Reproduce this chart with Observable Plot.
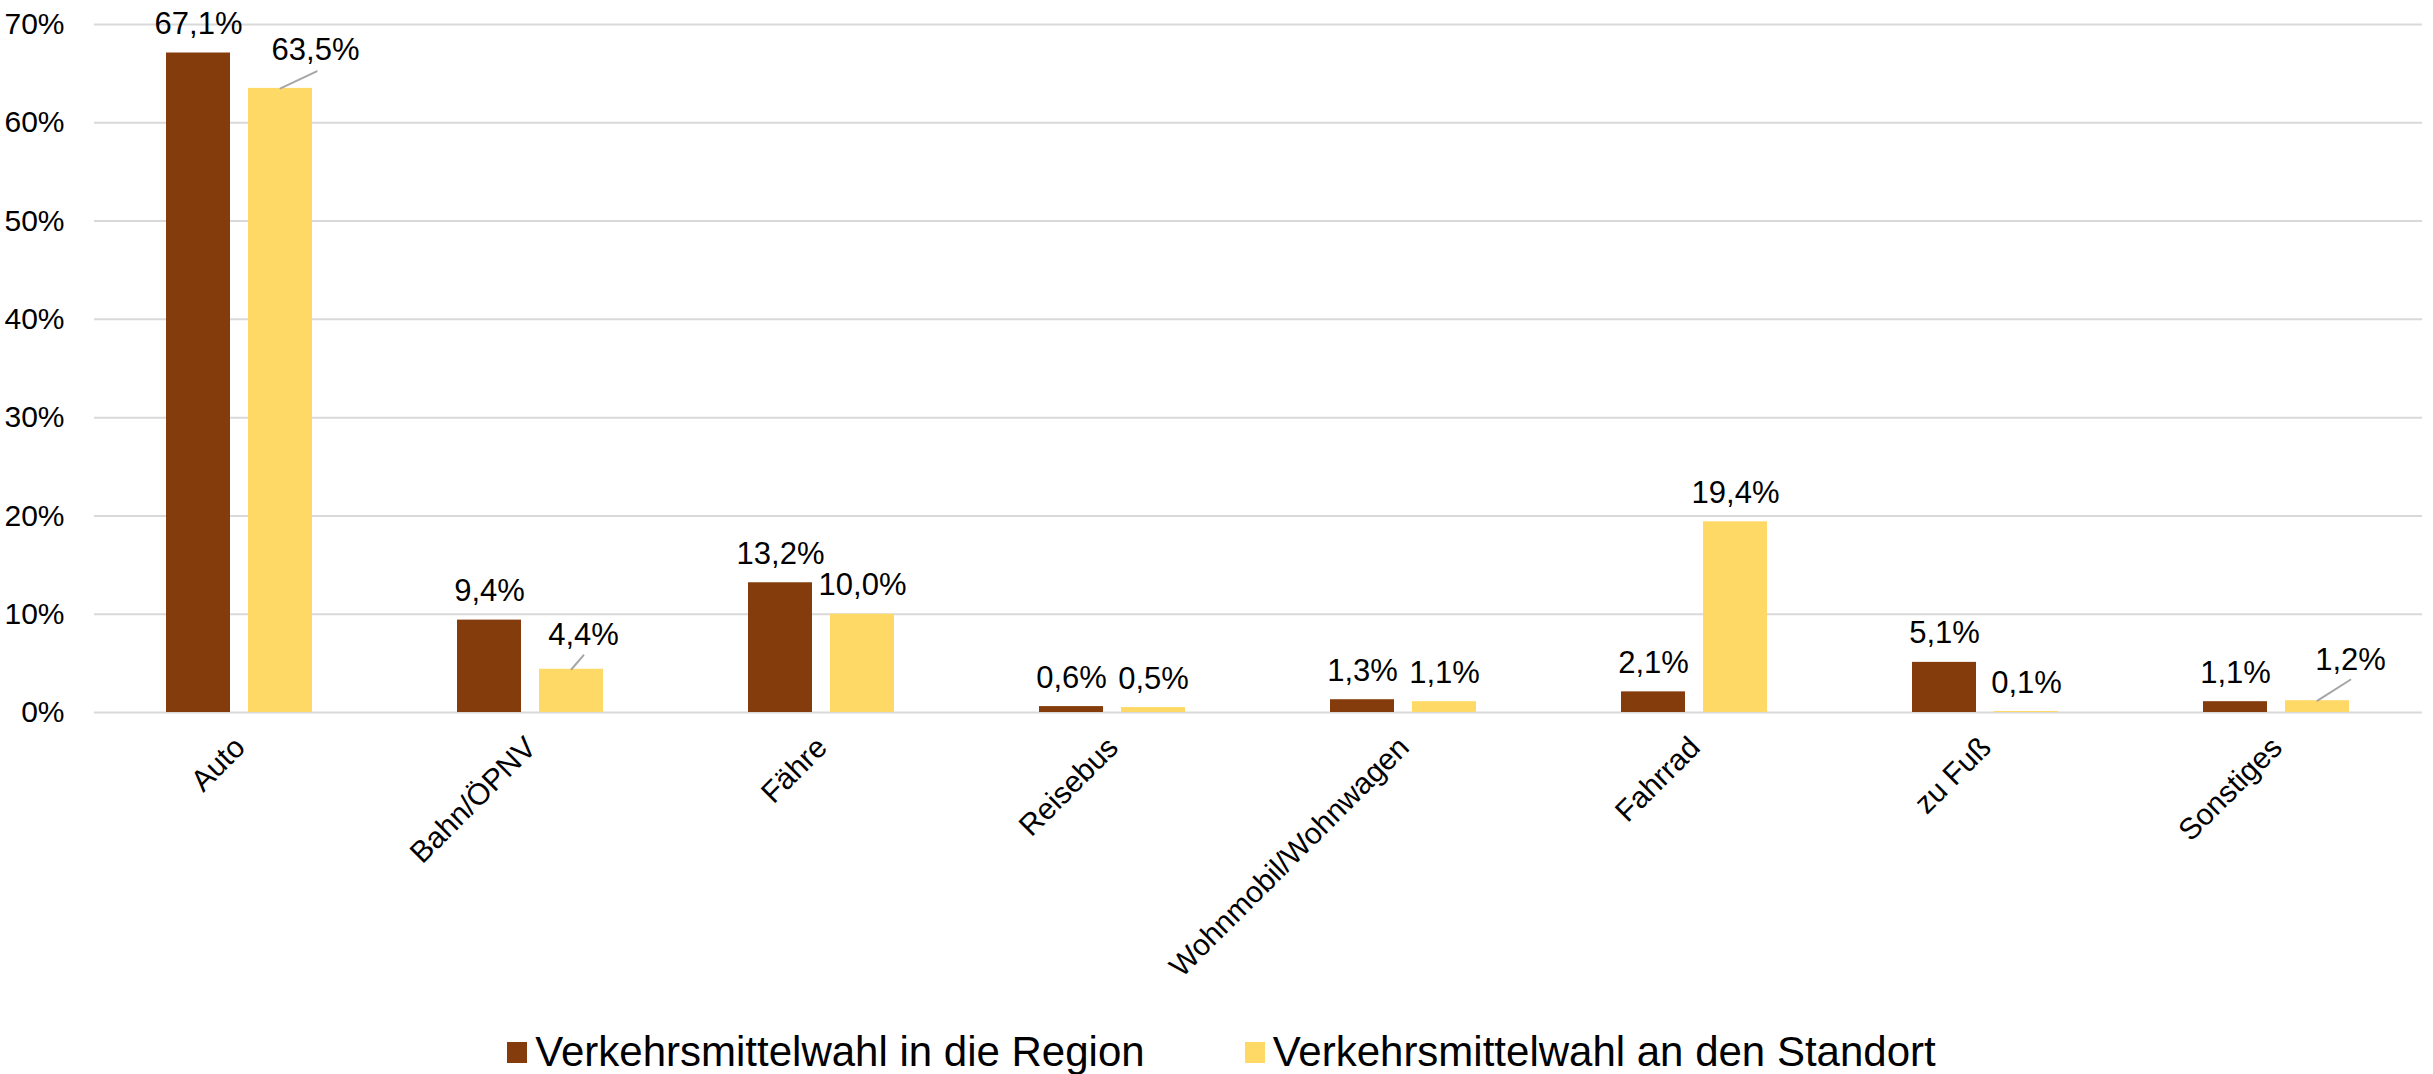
<!DOCTYPE html>
<html>
<head>
<meta charset="utf-8">
<script src="https://cdn.jsdelivr.net/npm/d3@7"></script>
<script src="https://cdn.jsdelivr.net/npm/@observablehq/plot@0.6"></script>
<style>
  html, body { margin: 0; padding: 0; background: #fff; }
  body { width: 2433px; height: 1074px; overflow: hidden; font-family: "Liberation Sans", Arial, sans-serif; }
  #legend { display: flex; justify-content: center; align-items: center; gap: 100px; height: 44px; padding-top: 20px; padding-left: 10px; }
  .item { display: flex; align-items: center; font-size: 42px; color: #000; }
  .sw { width: 20px; height: 21px; margin-right: 8px; }
</style>
</head>
<body>
<div id="chart"></div>
<div id="legend"></div>
<script>
const categories = ["Auto", "Bahn/ÖPNV", "Fähre", "Reisebus", "Wohnmobil/Wohnwagen", "Fahrrad", "zu Fuß", "Sonstiges"];
const seriesNames = ["Verkehrsmittelwahl in die Region", "Verkehrsmittelwahl an den Standort"];
const regionValues = [67.1, 9.4, 13.2, 0.6, 1.3, 2.1, 5.1, 1.1];
const standortValues = [63.5, 4.4, 10.0, 0.5, 1.1, 19.4, 0.1, 1.2];
const yTicks = [0, 10, 20, 30, 40, 50, 60, 70];
const colors = ["#843C0C", "#FFD966"];

const rows = [];
categories.forEach((c, i) => {
  rows.push({cat: c, series: seriesNames[0], value: regionValues[i]});
  rows.push({cat: c, series: seriesNames[1], value: standortValues[i]});
});

// label placements for the labels that were moved aside (pixel offsets + leader lines)
const moved = {
  "Auto": {dx: 35, dy: -28, len: 40, rot: 64.7},
  "Bahn/ÖPNV": {dx: 12, dy: -24, len: 18.4, rot: 40.6},
  "Sonstiges": {dx: 33, dy: -31, len: 39, rot: 57.5}
};
const isMoved = d => d.series === seriesNames[1] && moved[d.cat];
const fmt = v => v.toFixed(1).replace(".", ",") + "%";

const normal = rows.filter(d => !isMoved(d));
const movedRows = rows.filter(d => isMoved(d));

const font = "Liberation Sans, Arial, sans-serif";

const textMarks = movedRows.map(d => Plot.text([d], {
  fx: "cat", x: "series", y: "value", text: d => fmt(d.value),
  dx: moved[d.cat].dx, dy: moved[d.cat].dy, lineAnchor: "bottom",
  fontSize: 31, fill: "#000"
}));
const leaderMarks = movedRows.map(d => Plot.vector([d], {
  fx: "cat", x: "series", y: "value",
  length: moved[d.cat].len, rotate: moved[d.cat].rot, anchor: "start",
  r: 0, stroke: "#A6A6A6", strokeWidth: 2
}));

const chart = Plot.plot({
  width: 2433,
  height: 1010,
  marginLeft: 93,
  marginRight: 10,
  marginTop: 24,
  marginBottom: 298,
  style: {fontFamily: font, fontSize: "30px", color: "#000", background: "#fff"},
  fx: {domain: categories, padding: 0, label: null, tickRotate: -45, tickSize: 0, tickPadding: 30, fontSize: 31},
  x: {domain: seriesNames, paddingInner: 0.217, paddingOuter: 0.863, axis: null},
  y: {domain: [0, 70], ticks: yTicks, tickFormat: d => d + "%", label: null, tickSize: 0, tickPadding: 30, grid: false},
  color: {domain: seriesNames, range: colors},
  marks: [
    Plot.gridY(yTicks, {stroke: "#D9D9D9", strokeOpacity: 1, strokeWidth: 2}),
    Plot.barY(rows, {fx: "cat", x: "series", y: "value", fill: "series", inset: 0}),
    Plot.text(normal, {fx: "cat", x: "series", y: "value", text: d => fmt(d.value), dy: -19, lineAnchor: "bottom", fontSize: 31, fill: "#000"}),
    ...textMarks,
    ...leaderMarks
  ]
});
document.getElementById("chart").appendChild(chart);

const legend = document.getElementById("legend");
seriesNames.forEach((s, i) => {
  const item = document.createElement("div");
  item.className = "item";
  const sw = document.createElement("span");
  sw.className = "sw";
  sw.style.background = colors[i];
  const t = document.createElement("span");
  t.textContent = s;
  item.appendChild(sw);
  item.appendChild(t);
  legend.appendChild(item);
});
</script>
</body>
</html>
